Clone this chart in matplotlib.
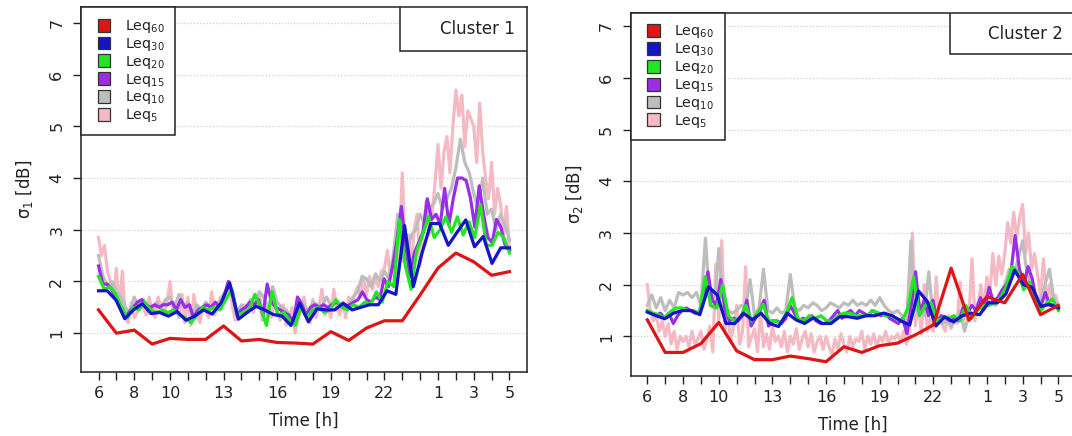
import matplotlib
matplotlib.use("Agg")
import numpy as np
import matplotlib.pyplot as plt
from matplotlib.patches import Patch, Rectangle
from matplotlib.legend_handler import HandlerPatch
from matplotlib.ticker import FixedLocator

plt.rcParams['font.family'] = ['DejaVu Sans']
plt.rcParams['mathtext.fontset'] = 'dejavusans'
plt.rcParams['mathtext.default'] = 'regular'

# ---------------- data ----------------
hours = [6, 7, 8, 9, 10, 11, 12, 13, 14, 15, 16, 17, 18, 19, 20, 21, 22, 23, 0, 1, 2, 3, 4, 5]
labeled_hours = [6, 8, 10, 13, 16, 19, 22, 1, 3, 5]
grid_hours = [10, 15, 20, 1]

series_names = ['Leq5', 'Leq10', 'Leq15', 'Leq20', 'Leq30', 'Leq60']
legend_labels = ['Leq$_{60}$', 'Leq$_{30}$', 'Leq$_{20}$', 'Leq$_{15}$', 'Leq$_{10}$', 'Leq$_{5}$']

# Cluster 1
c1_leq60 = [1.45, 1.00, 1.06, 0.79, 0.90, 0.88, 0.88, 1.14, 0.85, 0.88, 0.82, 0.81,
            0.79, 1.03, 0.86, 1.10, 1.24, 1.24, 1.74, 2.26, 2.55, 2.38, 2.12, 2.19]
c1_leq30 = [1.82, 1.82, 1.64, 1.28, 1.45, 1.57, 1.38, 1.40, 1.33, 1.42, 1.25, 1.33,
            1.45, 1.37, 1.58, 1.97, 1.27, 1.40, 1.52, 1.45, 1.36, 1.33, 1.15, 1.58,
            1.22, 1.47, 1.45, 1.45, 1.58, 1.45, 1.50, 1.55, 1.55, 1.82, 1.75, 3.08,
            1.90, 2.55, 3.12, 3.12, 2.70, 2.95, 3.19, 2.67, 2.87, 2.35, 2.65, 2.65]
c1_leq20 = [2.10, 1.85, 1.90, 1.75, 1.50, 1.30, 1.50, 1.45, 1.60, 1.45, 1.40, 1.45,
            1.40, 1.45, 1.35, 1.30, 1.20, 1.35, 1.50, 1.45, 1.50, 1.45, 1.65, 1.85,
            1.35, 1.40, 1.45, 1.75, 1.50, 1.15, 1.80, 1.35, 1.40, 1.25, 1.15, 1.50,
            1.30, 1.45, 1.50, 1.40, 1.45, 1.65, 1.50, 1.45, 1.55, 1.50, 1.60, 1.55,
            1.80, 1.60, 2.00, 1.90, 3.20, 2.30, 1.85, 2.60, 2.90, 3.25, 2.85, 3.00,
            3.25, 2.95, 3.25, 2.90, 3.15, 2.85, 3.48, 2.70, 2.70, 2.95, 2.85, 2.55]
c1_leq15 = [2.30, 1.95, 1.95, 1.85, 1.70, 1.55, 1.30, 1.40, 1.50, 1.60, 1.65, 1.55,
            1.50, 1.55, 1.50, 1.55, 1.55, 1.60, 1.45, 1.65, 1.50, 1.55, 1.30, 1.45,
            1.50, 1.55, 1.50, 1.60, 1.50, 1.70, 2.00, 1.80, 1.35, 1.45, 1.50, 1.60,
            1.55, 1.65, 1.35, 1.95, 1.60, 1.50, 1.45, 1.40, 1.35, 1.20, 1.70, 1.55,
            1.35, 1.50, 1.55, 1.50, 1.55, 1.50, 1.55, 1.60, 1.55, 1.50, 1.55, 1.60,
            1.65, 1.80, 1.65, 1.60, 1.70, 1.65, 2.05, 1.90, 2.30, 2.80, 3.45, 2.70,
            2.10, 2.55, 2.75, 2.95, 3.60, 3.20, 3.30, 3.10, 3.80, 3.10, 3.60, 4.00,
            4.00, 3.95, 3.60, 3.05, 3.85, 3.30, 2.85, 2.75, 3.20, 3.05, 2.70, 2.60]
c1_leq10 = [2.50, 2.10, 1.90, 2.00, 1.80, 1.70, 1.50, 1.40, 1.70, 1.50, 1.65, 1.50,
            1.45, 1.60, 1.50, 1.65, 1.70, 1.50, 1.75, 1.50, 1.60, 1.35, 1.55, 1.45,
            1.60, 1.50, 1.45, 1.60, 1.75, 1.90, 1.70, 1.40, 1.55, 1.45, 1.65, 1.50,
            1.80, 1.70, 1.35, 1.90, 1.60, 1.50, 1.45, 1.30, 1.25, 1.65, 1.55, 1.40,
            1.60, 1.55, 1.50, 1.70, 1.55, 1.60, 1.55, 1.50, 1.55, 1.70, 1.80, 2.10,
            2.05, 1.90, 2.15, 2.00, 2.20, 2.05, 2.50, 3.30, 2.40, 2.50, 2.90, 3.00,
            3.30, 3.10, 3.40, 3.50, 3.70, 3.40, 3.60, 3.80, 4.20, 4.75, 4.30, 4.10,
            3.70, 3.40, 4.00, 3.30, 3.40, 3.00, 3.30, 3.10, 2.80]
c1_leq5 = [2.85, 2.50, 2.70, 2.20, 2.00, 1.70,
           2.25, 1.50, 2.20, 1.30, 1.20, 1.60,
           1.30, 1.40, 1.60, 1.50, 1.35, 1.70,
           1.40, 1.30, 1.70, 1.50, 1.35, 1.60,
           2.00, 1.40, 1.60, 1.30, 1.75, 1.20,
           1.70, 1.15, 1.75, 1.40, 1.20, 1.50,
           1.45, 1.30, 1.80, 1.35, 1.50, 1.70,
           1.60, 1.85, 2.00, 1.50, 1.25, 1.40,
           1.35, 1.55, 1.40, 1.60, 1.40, 1.70,
           1.80, 1.25, 1.40, 1.60, 1.30, 1.55,
           1.40, 1.25, 1.55, 1.15, 1.30, 1.50,
           1.00, 1.30, 1.45, 1.70, 1.30, 1.20,
           1.65, 1.30, 1.50, 1.85, 1.35, 1.50,
           1.30, 1.85, 1.50, 1.35, 1.60, 1.30,
           1.70, 1.55, 1.75, 1.90, 1.70, 2.05,
           1.75, 2.10, 1.85, 2.05, 1.90, 2.20,
           2.25, 2.60, 2.10, 2.30, 2.00, 2.60,
           4.10, 2.60, 2.90, 2.30, 3.00, 3.30,
           2.30, 3.00, 3.55, 2.90, 3.30, 3.90,
           4.65, 3.80, 4.50, 4.80, 4.10, 5.00,
           5.70, 5.20, 5.60, 4.60, 5.30, 5.15,
           5.00, 4.30, 5.45, 4.50, 4.00, 3.60,
           4.30, 3.30, 3.80, 3.50, 2.90, 3.45,
           2.60]

# Cluster 2
c2_leq60 = [1.32, 0.69, 0.69, 0.86, 1.27, 0.72, 0.55, 0.55, 0.62, 0.57, 0.51, 0.80,
            0.69, 0.82, 0.87, 1.03, 1.22, 2.32, 1.31, 1.77, 1.65, 2.20, 1.42, 1.60]
c2_leq30 = [1.47, 1.40, 1.34, 1.45, 1.50, 1.50, 1.42, 1.96, 1.80, 1.25, 1.25, 1.45,
            1.32, 1.45, 1.25, 1.19, 1.45, 1.32, 1.25, 1.36, 1.25, 1.25, 1.38, 1.38,
            1.35, 1.40, 1.40, 1.45, 1.40, 1.30, 1.22, 1.88, 1.68, 1.20, 1.38, 1.28,
            1.40, 1.45, 1.42, 1.65, 1.65, 1.82, 2.28, 2.00, 1.95, 1.58, 1.62, 1.55]
c2_leq20 = [1.50, 1.45, 1.42, 1.35, 1.48, 1.55, 1.55, 1.50, 1.50, 1.45, 2.15, 1.60,
            1.55, 2.00, 1.40, 1.30, 1.35, 1.60, 1.30, 1.45, 1.62, 1.30, 1.30, 1.25,
            1.45, 1.75, 1.35, 1.30, 1.40, 1.35, 1.40, 1.30, 1.30, 1.40, 1.45, 1.45,
            1.40, 1.40, 1.40, 1.50, 1.45, 1.40, 1.40, 1.35, 1.30, 1.55, 2.15, 1.40,
            1.60, 1.65, 1.30, 1.35, 1.35, 1.40, 1.30, 1.60, 1.35, 1.50, 1.60, 1.60,
            1.65, 1.75, 1.95, 2.35, 2.25, 1.90, 2.05, 1.80, 1.50, 1.65, 1.72, 1.50]
c2_leq15 = [1.50, 1.45, 1.40, 1.45, 1.35, 1.45, 1.25, 1.40, 1.50, 1.55, 1.50, 1.45,
            1.45, 1.80, 2.25, 1.70, 1.60, 2.10, 1.50, 1.30, 1.35, 1.30, 1.40, 1.70,
            1.20, 1.35, 1.50, 1.70, 1.20, 1.30, 1.30, 1.25, 1.35, 1.60, 1.45, 1.30,
            1.35, 1.30, 1.40, 1.30, 1.25, 1.25, 1.30, 1.40, 1.50, 1.35, 1.45, 1.50,
            1.40, 1.50, 1.45, 1.40, 1.50, 1.45, 1.40, 1.45, 1.35, 1.30, 1.25, 1.35,
            1.05, 1.60, 2.25, 1.45, 1.70, 1.40, 1.70, 1.30, 1.40, 1.35, 1.30, 1.35,
            1.30, 1.55, 1.45, 1.60, 1.50, 1.75, 1.55, 1.95, 1.65, 1.75, 1.90, 2.00,
            2.20, 2.95, 2.30, 2.00, 2.35, 2.10, 1.65, 1.60, 1.85, 1.60, 1.60, 1.55]
c2_leq10 = [1.60, 1.80, 1.55, 1.75, 1.50, 1.70, 1.55, 1.85, 1.80, 1.85, 1.75, 1.85,
            1.60, 2.90, 1.60, 1.55, 2.70, 1.60, 1.50, 1.45, 1.50, 1.60, 1.55, 2.10,
            1.40, 1.55, 2.30, 1.50, 1.45, 1.55, 1.45, 1.50, 2.20, 1.55, 1.50, 1.60,
            1.55, 1.65, 1.60, 1.50, 1.55, 1.65, 1.60, 1.55, 1.65, 1.60, 1.70, 1.60,
            1.65, 1.60, 1.70, 1.60, 1.75, 1.60, 1.50, 1.45, 1.50, 1.40, 1.20, 2.85,
            1.50, 1.60, 1.40, 2.25, 1.30, 1.35, 1.25, 1.30, 1.20, 1.30, 1.50, 1.10,
            1.45, 1.40, 1.65, 1.50, 1.70, 1.65, 1.60, 1.80, 2.00, 2.30, 2.20, 2.50,
            2.85, 2.20, 2.00, 1.80, 1.70, 2.00, 2.30, 1.70, 1.55]
c2_leq5 = [2.00, 1.50, 1.30, 1.40, 1.10, 1.30,
           1.00, 1.25, 0.85, 1.10, 0.75, 1.00,
           0.90, 1.00, 0.80, 1.10, 0.85, 0.95,
           1.10, 0.75, 0.95, 1.20, 0.70, 2.40,
           1.30, 2.85, 1.10, 1.50, 0.90, 1.20,
           1.60, 0.85, 1.10, 2.35, 0.80, 1.00,
           1.15, 0.70, 1.50, 0.80, 1.05, 0.75,
           1.20, 0.90, 1.00, 0.80, 1.10, 0.70,
           1.00, 0.85, 1.15, 0.75, 0.95, 1.10,
           0.80, 1.05, 0.70, 0.90, 1.00, 0.75,
           1.00, 0.80, 0.65, 0.95, 0.75, 1.05,
           0.85, 0.70, 1.00, 0.80, 0.95, 0.90,
           1.10, 0.75, 1.00, 0.85, 1.05, 0.80,
           1.00, 0.90, 1.10, 0.85, 1.00, 0.95,
           1.05, 0.90, 1.10, 0.85, 1.00, 3.00,
           1.20, 1.70, 1.05, 2.00, 1.10, 1.35,
           1.10, 2.15, 1.30, 1.25, 1.10, 1.40,
           1.15, 1.40, 1.25, 2.05, 1.30, 1.50,
           1.40, 2.50, 1.30, 1.60, 2.00, 1.50,
           2.15, 1.80, 2.60, 2.00, 2.55, 2.20,
           2.60, 3.20, 2.80, 3.40, 2.90, 3.30,
           3.55, 2.60, 3.00, 2.30, 2.60, 2.20,
           1.80, 2.50, 1.70, 2.00, 1.60, 1.80,
           1.60]

clusters = [
    dict(title='Cluster 1', ylabel='σ$_1$ [dB]',
         series=[c1_leq5, c1_leq10, c1_leq15, c1_leq20, c1_leq30, c1_leq60]),
    dict(title='Cluster 2', ylabel='σ$_2$ [dB]',
         series=[c2_leq5, c2_leq10, c2_leq15, c2_leq20, c2_leq30, c2_leq60]),
]

# ---------------- style ----------------
colors = {'Leq60': '#DD1515', 'Leq30': '#1414C8', 'Leq20': '#22E622',
          'Leq15': '#9B2DE6', 'Leq10': '#BDBDBD', 'Leq5': '#F5B9C3'}
legend_order = ['Leq60', 'Leq30', 'Leq20', 'Leq15', 'Leq10', 'Leq5']


def right_square(legend, orig_handle, xdescent, ydescent, width, height, fontsize):
    # square key placed at the right end of the handle box
    return Rectangle((width - height - xdescent, -ydescent), height, height)


W, H = 1072, 436
fig = plt.figure(figsize=(W / 100, H / 100), dpi=100)
fig.patch.set_facecolor('white')

panel_px = [  # left, top, right, bottom in pixels
    (81, 7.3, 527, 372),
    (630.7, 12.7, 1075, 375.7),
]
xlims = [(-0.98, 23.98), (-0.93, 23.93)]
ylims = [(0.25, 7.30), (0.24, 7.26)]
box_frac = [(0.715, 0.880), (0.719, 0.885)]
ink = '#222222'

for i, cl in enumerate(clusters):
    l, t, r, b = panel_px[i]
    ax = fig.add_axes([l / W, 1 - b / H, (r - l) / W, (b - t) / H])
    n_hours = len(hours) - 1
    for name, vals in zip(series_names, cl['series']):
        x = np.linspace(0, n_hours, len(vals))
        ax.plot(x, vals, color=colors[name], lw=2.3, solid_joinstyle='round', zorder=3)
    ax.set_xlim(*xlims[i])
    ax.set_ylim(*ylims[i])

    # ticks
    pos = np.arange(len(hours))
    ax.set_xticks(pos)
    ax.set_xticklabels([str(h) if h in labeled_hours else '' for h in hours])
    ax.xaxis.set_minor_locator(FixedLocator([hours.index(h) for h in grid_hours]))
    ax.set_yticks([1, 2, 3, 4, 5, 6, 7])
    ax.tick_params(axis='both', which='major', direction='out', length=6, width=1.0,
                   labelsize=11.5, color=ink, labelcolor=ink)
    ax.tick_params(axis='x', which='major', pad=4)
    ax.tick_params(axis='y', which='major', pad=6)
    ax.tick_params(axis='x', which='minor', length=0)
    for lab in ax.get_yticklabels():
        lab.set_rotation(90)
        lab.set_va('center')
    ax.grid(True, which='major', axis='y', color='#D0D0D0', lw=0.9, ls=(0, (1, 1.5)))
    ax.grid(True, which='minor', axis='x', color='#D0D0D0', lw=0.9, ls=(0, (1, 1.5)))
    ax.set_axisbelow(True)
    for s in ax.spines.values():
        s.set_linewidth(1.1)
        s.set_color(ink)

    ax.set_xlabel('Time [h]', fontsize=12, color=ink, labelpad=8)
    ax.set_ylabel(cl['ylabel'], fontsize=12, color=ink, labelpad=10)

    # legend
    handles = [Patch(facecolor=colors[n], edgecolor='#333333', linewidth=0.9) for n in legend_order]
    leg = ax.legend(handles, legend_labels, loc='upper left', bbox_to_anchor=(0, 1),
                    borderaxespad=0, fancybox=False, framealpha=1, edgecolor=ink,
                    fontsize=10.3, handlelength=1.3, handleheight=1.0,
                    handletextpad=1.0, labelspacing=0.06, borderpad=0.75,
                    handler_map={Patch: HandlerPatch(patch_func=right_square)})
    leg.get_frame().set_linewidth(1.1)
    for txt in leg.get_texts():
        txt.set_color(ink)
    leg.set_zorder(10)

    # cluster label box
    bx, by = box_frac[i]
    ax.add_patch(Rectangle((bx, by), 1 - bx, 1 - by, transform=ax.transAxes,
                           facecolor='white', edgecolor=ink, lw=1.1, zorder=9))
    ax.text(0.973, (1 + by) / 2, cl['title'], transform=ax.transAxes, ha='right',
            va='center', fontsize=12, color=ink, zorder=11)

fig.savefig('out.png', dpi=100)
